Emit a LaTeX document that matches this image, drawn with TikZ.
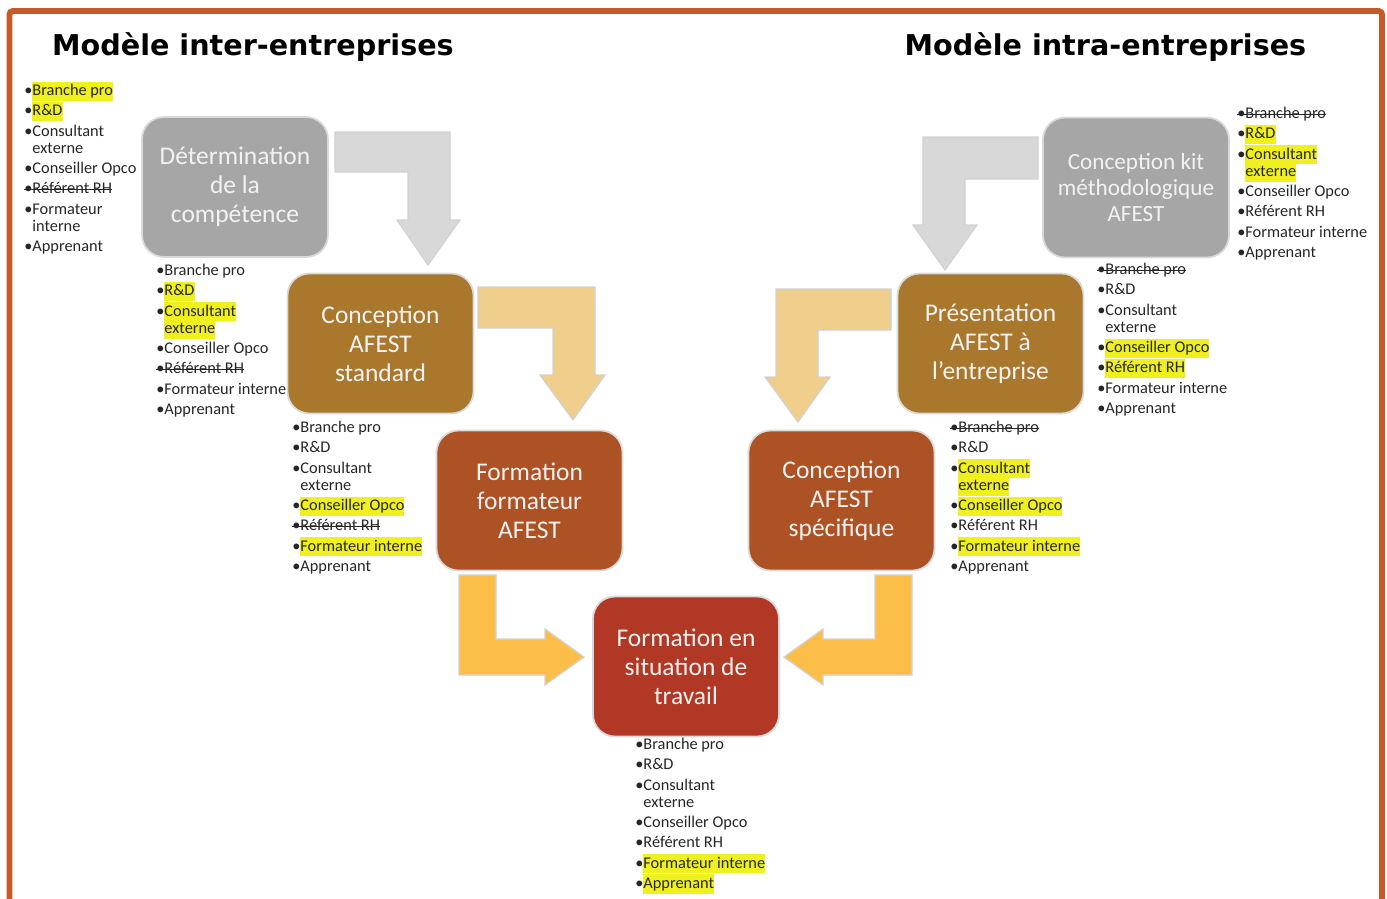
\documentclass[tikz,border=0pt]{standalone}
\usepackage{fontspec}
\setmainfont{Carlito}
\newfontfamily\titlefont{DejaVu Sans}

\definecolor{cadre}{HTML}{C55A28}
\definecolor{gris}{HTML}{A6A6A6}
\definecolor{ocre}{HTML}{AA782D}
\definecolor{rouille}{HTML}{AC5224}
\definecolor{brique}{HTML}{B03824}
\definecolor{grisclair}{HTML}{D9D8D8}
\definecolor{sable}{HTML}{F0CE8C}
\definecolor{soleil}{HTML}{FBBF49}
\definecolor{surligne}{HTML}{F0F020}

\newsavebox\boitemot
\newcommand\bu{\makebox[4.6pt][l]{\textbullet}}
\newcommand\ind{\hspace*{4.6pt}}
\newcommand\hlt[1]{{\sbox\boitemot{#1}\smash{\rlap{\color{surligne}\rule[-3pt]{\wd\boitemot}{11pt}}}\usebox\boitemot}}
\newcommand\biffe[1]{{\sbox\boitemot{#1}\rlap{\rule[2.4pt]{\wd\boitemot}{0.5pt}}\usebox\boitemot}}

\begin{document}
\begin{tikzpicture}[x=0.02cm, y=-0.02cm,
    boite/.style={rectangle, rounded corners=0.44cm, minimum width=3.72cm, minimum height=2.8cm,
        draw=white!85!black, line width=1pt, text=white!95!black, align=center,
        font=\fontsize{14.5}{16.4}\selectfont},
    liste/.style={anchor=north west, inner sep=0pt, align=left, text=black!85,
        font=\fontsize{9.3}{11.5}\selectfont},
    fleche/.style={draw=white!82!black, line width=0.7pt},
    titre/.style={font=\titlefont\bfseries\fontsize{16.3}{18}\selectfont}]
    \useasboundingbox (0,0) rectangle (1387,899);

    % cadre
    \draw[cadre, line width=3.4pt, rounded corners=2pt] (9.5,905) -- (9.5,11) -- (1382,11) -- (1382,905);

    \node[titre] (inter) at (253,47) {Modèle inter-entreprises};
    \node[titre] (intra) at (1105.5,47) {Modèle intra-entreprises};

    % fleches coudees
    \filldraw[fleche, fill=grisclair] (335,132) -- (450,132) -- (450,220) -- (460,220) -- (428,265)
        -- (397,220) -- (408,220) -- (408,172) -- (335,172) -- cycle;
    \filldraw[fleche, fill=sable] (478,287) -- (595,287) -- (595,375) -- (605,375) -- (573,420)
        -- (540,375) -- (553,375) -- (553,328) -- (478,328) -- cycle;
    \filldraw[fleche, fill=soleil] (459,575) -- (496,575) -- (496,639) -- (545,639) -- (545,629)
        -- (584,657) -- (545,685) -- (545,675) -- (459,675) -- cycle;
    \filldraw[fleche, fill=soleil] (912,575) -- (875,575) -- (875,639) -- (823,639) -- (823,629)
        -- (784,657) -- (823,685) -- (823,675) -- (912,675) -- cycle;
    \filldraw[fleche, fill=sable] (891,289) -- (776,289) -- (776,377) -- (765,377) -- (798,422)
        -- (830,377) -- (818,377) -- (818,330) -- (891,330) -- cycle;
    \filldraw[fleche, fill=grisclair] (1038,137) -- (923,137) -- (923,225) -- (913,225) -- (945,270)
        -- (977,225) -- (965,225) -- (965,179) -- (1038,179) -- cycle;

    % etapes
    \node[boite, fill=gris] (determ) at (235,187) {Détermination\\de la\\compétence};
    \node[boite, fill=ocre] (standard) at (380.5,343.5) {Conception\\AFEST\\standard};
    \node[boite, fill=rouille] (formform) at (529.5,500.5) {Formation\\formateur\\AFEST};
    \node[boite, fill=brique] (fest) at (686,666.5) {Formation en\\situation de\\travail};
    \node[boite, fill=rouille] (specif) at (841.5,500.5) {Conception\\AFEST\\spécifique};
    \node[boite, fill=ocre] (present) at (990.5,343.5) {Présentation\\AFEST à\\l’entreprise};
    \node[boite, fill=gris, font=\fontsize{13.2}{15}\selectfont] (kit) at (1136,187.5)
        {Conception kit\\méthodologique\\AFEST};

    % acteurs
    \node[liste] (acteurs1) at (24,84) {\bu\hlt{Branche pro}\\ \bu\hlt{R\&D}\\ \bu Consultant\\[-1.6pt]
        \ind externe\\ \bu Conseiller Opco\\ \biffe{\bu Référent RH}\\ \bu Formateur\\[-1.6pt]
        \ind interne\\ \bu Apprenant};
    \node[liste] (acteurs2) at (156,264) {\bu Branche pro\\ \bu\hlt{R\&D}\\ \bu\hlt{Consultant}\\[-1.6pt]
        \ind\hlt{externe}\\ \bu Conseiller Opco\\ \biffe{\bu Référent RH}\\ \bu Formateur interne\\
        \bu Apprenant};
    \node[liste] (acteurs3) at (292,421) {\bu Branche pro\\ \bu R\&D\\ \bu Consultant\\[-1.6pt]
        \ind externe\\ \bu\hlt{Conseiller Opco}\\ \biffe{\bu Référent RH}\\ \bu\hlt{Formateur interne}\\
        \bu Apprenant};
    \node[liste] (acteurs4) at (635,738) {\bu Branche pro\\ \bu R\&D\\ \bu Consultant\\[-1.6pt]
        \ind externe\\ \bu Conseiller Opco\\ \bu Référent RH\\ \bu\hlt{Formateur interne}\\
        \bu\hlt{Apprenant}};
    \node[liste] (acteurs5) at (950,421) {\biffe{\bu Branche pro}\\ \bu R\&D\\ \bu\hlt{Consultant}\\[-1.6pt]
        \ind\hlt{externe}\\ \bu\hlt{Conseiller Opco}\\ \bu Référent RH\\ \bu\hlt{Formateur interne}\\
        \bu Apprenant};
    \node[liste] (acteurs6) at (1097,263) {\biffe{\bu Branche pro}\\ \bu R\&D\\ \bu Consultant\\[-1.6pt]
        \ind externe\\ \bu\hlt{Conseiller Opco}\\ \bu\hlt{Référent RH}\\ \bu Formateur interne\\
        \bu Apprenant};
    \node[liste] (acteurs7) at (1237,107) {\biffe{\bu Branche pro}\\ \bu\hlt{R\&D}\\ \bu\hlt{Consultant}\\[-1.6pt]
        \ind\hlt{externe}\\ \bu Conseiller Opco\\ \bu Référent RH\\ \bu Formateur interne\\
        \bu Apprenant};
\end{tikzpicture}
\end{document}
